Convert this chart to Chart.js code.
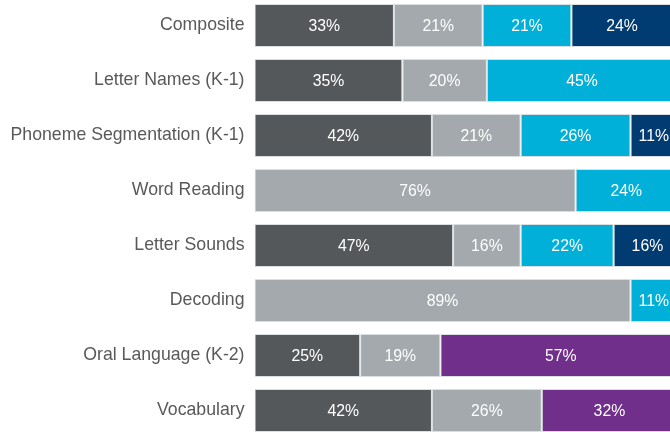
<!DOCTYPE html>
<html>
<head>
<meta charset="utf-8">
<script src="https://cdn.jsdelivr.net/npm/chart.js@4"></script>
<style>
  html, body { margin: 0; padding: 0; background: #fff; overflow: hidden; }
  #wrap { position: relative; width: 670px; height: 432px; overflow: hidden; }
  #chart { position: absolute; left: 0; top: -2px; }
</style>
</head>
<body>
<div id="wrap"><canvas id="chart" width="677" height="440"></canvas></div>
<script>
// categories, top to bottom
const categories = [
    'Composite',
    'Letter Names (K-1)',
    'Phoneme Segmentation (K-1)',
    'Word Reading',
    'Letter Sounds',
    'Decoding',
    'Oral Language (K-2)',
    'Vocabulary'
];

// percentage of students in each band
const darkGray  = [33, 35, 42, null, 47, null, 25, 42];
const lightGray = [21, 20, 21, 76, 16, 89, 19, 26];
const cyan      = [21, 45, 26, 24, 22, 11, null, null];
const navy      = [24, null, 11, null, 16, null, null, null];
const purple    = [null, null, null, null, null, null, 57, 32];

// draws the white "xx%" text in the middle of each segment
const segmentLabels = {
    id: 'segmentLabels',
    afterDatasetsDraw(chart) {
        const ctx = chart.ctx;
        ctx.save();
        ctx.fillStyle = '#ffffff';
        ctx.font = '15.8px "Liberation Sans", Arial, sans-serif';
        ctx.textAlign = 'center';
        ctx.textBaseline = 'middle';
        chart.data.datasets.forEach((ds, i) => {
            chart.getDatasetMeta(i).data.forEach((bar, j) => {
                const v = ds.data[j];
                if (v == null) return;
                const x = (bar.x + bar.base) / 2;
                ctx.fillText(v + '%', x, bar.y + 1);
            });
        });
        ctx.restore();
    }
};

function series(data, color) {
    return {
        data: data,
        backgroundColor: color,
        borderColor: '#dcdfe1',
        borderWidth: 1,
        borderSkipped: false,
        barPercentage: 0.78,
        categoryPercentage: 1
    };
}

new Chart(document.getElementById('chart').getContext('2d'), {
    type: 'bar',
    data: {
        labels: categories,
        datasets: [
            series(darkGray, '#55585b'),
            series(lightGray, '#a3a9ac'),
            series(cyan, '#00b0d8'),
            series(navy, '#003b71'),
            series(purple, '#702f8a')
        ]
    },
    options: {
        indexAxis: 'y',
        responsive: false,
        animation: false,
        devicePixelRatio: 1,
        layout: { padding: 0 },
        plugins: {
            legend: { display: false },
            tooltip: { enabled: false }
        },
        scales: {
            x: {
                stacked: true,
                display: false,
                min: 0,
                max: 100
            },
            y: {
                stacked: true,
                grid: { display: false },
                border: { display: false },
                ticks: {
                    color: '#595959',
                    padding: 2,
                    font: { family: '"Liberation Sans", Arial, sans-serif', size: 17.7 }
                },
                afterFit(scale) {
                    scale.width = 254.5;
                    scale.paddingTop = 0;
                    scale.paddingBottom = 0;
                }
            }
        }
    },
    plugins: [segmentLabels]
});
</script>
</body>
</html>
